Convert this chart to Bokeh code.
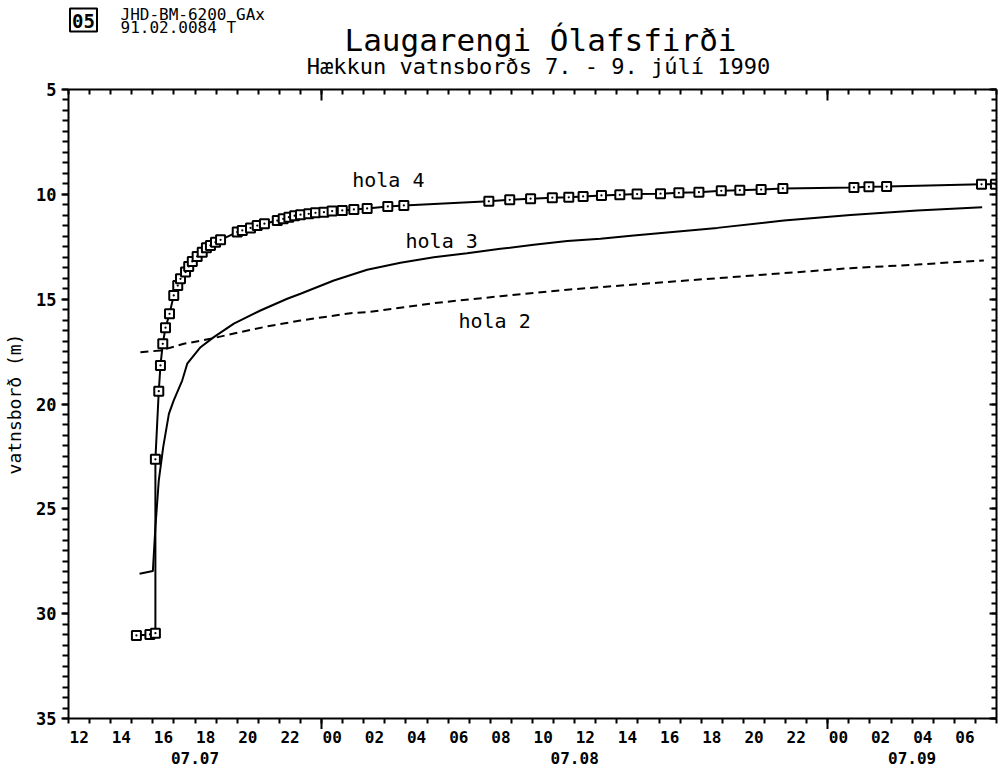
import numpy as np
from bokeh.plotting import figure
from bokeh.layouts import column
from bokeh.models import Range1d, LinearAxis, FixedTicker, Label
from bokeh.core.properties import value
from bokeh.embed import file_html
from bokeh.resources import INLINE

# time axis: hours since 07.07 12:00
hola4_hours = [3.22, 3.86, 4.12, 4.12, 4.28, 4.36, 4.47, 4.60, 4.79, 4.99, 5.18, 5.31, 5.55,
               5.70, 5.87, 6.10, 6.34, 6.54, 6.73, 6.97, 7.21, 8.00, 8.24, 8.63, 8.95, 9.29,
               9.90, 10.18, 10.45, 10.72, 11.00, 11.39, 11.71, 12.11, 12.50, 12.98, 13.53,
               14.16, 15.14, 15.90, 19.93, 20.92, 21.91, 22.94, 23.72, 24.40, 25.27, 26.14,
               26.96, 28.07, 28.94, 29.89, 30.95, 31.83, 32.84, 33.87, 37.24, 37.95, 38.79,
               43.29, 43.95]
hola4_level = [31.04, 30.99, 30.93, 22.64, 19.39, 18.16, 17.13, 16.36, 15.70, 14.82, 14.35,
               14.03, 13.71, 13.44, 13.20, 12.96, 12.76, 12.55, 12.44, 12.28, 12.17, 11.80,
               11.72, 11.60, 11.49, 11.40, 11.25, 11.17, 11.09, 11.02, 10.97, 10.93, 10.88,
               10.85, 10.80, 10.77, 10.72, 10.67, 10.58, 10.53, 10.33, 10.26, 10.21, 10.16,
               10.14, 10.10, 10.05, 10.02, 9.99, 9.97, 9.93, 9.90, 9.83, 9.80, 9.77, 9.72,
               9.67, 9.64, 9.63, 9.52, 9.52]

hola3_hours = [3.37, 4.00, 4.12, 4.28, 4.49, 4.76, 4.99, 5.39, 5.63, 6.26, 6.89, 7.84, 9.10,
               10.37, 11.00, 12.58, 14.16, 15.74, 17.32, 18.90, 20.48, 22.06, 23.65, 25.22,
               26.80, 30.76, 33.92, 37.08, 40.24, 43.32]
hola3_level = [28.10, 27.97, 25.87, 23.65, 22.06, 20.47, 19.83, 18.88, 18.08, 17.29, 16.81,
               16.17, 15.54, 14.98, 14.74, 14.11, 13.60, 13.26, 13.00, 12.81, 12.60, 12.41,
               12.23, 12.12, 11.96, 11.60, 11.25, 10.98, 10.77, 10.62]

hola2_hours = [3.41, 4.36, 5.47, 6.73, 8.16, 9.42, 11.00, 13.37, 14.16, 17.32, 20.48, 23.65,
               27.60, 30.76, 33.92, 37.08, 40.24, 43.40]
hola2_level = [17.53, 17.45, 17.13, 16.89, 16.57, 16.30, 16.02, 15.67, 15.62, 15.19, 14.86,
               14.55, 14.24, 14.00, 13.76, 13.52, 13.35, 13.15]

tick_hours = [0, 2, 4, 6, 8, 10, 12, 14, 16, 18, 20, 22, 24, 26, 28, 30, 32, 34, 36, 38, 40, 42]
tick_labels = ["12", "14", "16", "18", "20", "22", "00", "02", "04", "06", "08", "10",
               "12", "14", "16", "18", "20", "22", "00", "02", "04", "06"]
day_hours = [6, 24, 40]
day_labels = ["07.07", "07.08", "07.09"]
midnight_hours = [12, 36]

FONT = "DejaVu Sans Mono"
W = 999
HEAD_H = 81
FOOT_H = 42
MAIN_H = 771 - HEAD_H - FOOT_H   # 648: top border 8, frame 629, bottom border 11

x_rng = Range1d(0, 44)

# ---------- header (its frame is aligned with the main frame: x 68..996) ----------
head = figure(width=W, height=HEAD_H, output_backend="svg", toolbar_location=None,
              x_range=Range1d(68, 996), y_range=Range1d(HEAD_H, 0),
              x_axis_type=None, y_axis_type=None,
              min_border_left=68, min_border_right=3, min_border_top=0, min_border_bottom=0)
head.outline_line_color = None
head.xgrid.visible = False
head.ygrid.visible = False
head.rect(x=[83], y=[19.5], width=27, height=23, width_units="screen",
          height_units="screen", fill_color=None, line_color="black", line_width=2)
head.text(x=[83], y=[20], text=["05"], text_font=value(FONT), text_font_style="bold",
          text_font_size="19px", text_align="center", text_baseline="middle")
head.text(x=[120, 120], y=[14, 27], text=["JHD-BM-6200 GAx", "91.02.0084  T"],
          text_font=value(FONT), text_font_size="16px", text_align="left",
          text_baseline="middle")
head.text(x=[540], y=[39], text=["Laugarengi Ólafsfirði"], text_font=value(FONT),
          text_font_size="31px", text_align="center", text_baseline="middle")
head.text(x=[538], y=[66], text=["Hækkun vatnsborðs 7. - 9. júlí 1990"],
          text_font=value(FONT), text_font_size="22px", text_align="center",
          text_baseline="middle")

# ---------- main ----------
p = figure(width=W, height=MAIN_H, output_backend="svg", toolbar_location=None,
           x_range=x_rng, y_range=Range1d(35, 5),
           x_axis_type=None, y_axis_type=None,
           min_border_left=68, min_border_right=3, min_border_top=8, min_border_bottom=11)
p.outline_line_color = None
p.background_fill_color = "white"
p.border_fill_color = "white"

hour_minor = list(range(0, 45))
lvl_minor = list(np.arange(5, 35.01, 0.5))
lvl_major = [5, 10, 15, 20, 25, 30, 35]


def style(ax):
    ax.axis_line_width = 2
    ax.major_tick_line_width = 2
    ax.minor_tick_line_width = 2
    ax.axis_line_color = "black"
    ax.major_tick_line_color = "black"
    ax.minor_tick_line_color = "black"


def hide_labels(ax, ticks):
    ax.major_label_overrides = {t: "" for t in ticks}
    ax.major_label_text_font_size = "1px"
    ax.major_label_standoff = 0


bottom = LinearAxis(ticker=FixedTicker(ticks=midnight_hours, minor_ticks=hour_minor))
style(bottom)
hide_labels(bottom, midnight_hours)
bottom.major_tick_out = 11
bottom.major_tick_in = 0
bottom.minor_tick_out = 5
bottom.minor_tick_in = 0
p.add_layout(bottom, "below")

top = LinearAxis(ticker=FixedTicker(ticks=midnight_hours, minor_ticks=hour_minor))
style(top)
hide_labels(top, midnight_hours)
top.major_tick_out = 0
top.major_tick_in = 11
top.minor_tick_out = 0
top.minor_tick_in = 5
p.add_layout(top, "above")

left = LinearAxis(ticker=FixedTicker(ticks=lvl_major, minor_ticks=lvl_minor))
style(left)
left.major_tick_out = 7
left.major_tick_in = 0
left.minor_tick_out = 6
left.minor_tick_in = 0
left.major_label_text_font = FONT
left.major_label_text_font_style = "bold"
left.major_label_text_font_size = "17px"
left.major_label_text_color = "black"
left.major_label_standoff = 5
left.axis_label = "vatnsborð (m)"
left.axis_label_text_font = FONT
left.axis_label_text_font_style = "normal"
left.axis_label_text_font_size = "18px"
left.axis_label_text_color = "black"
left.axis_label_standoff = 8
p.add_layout(left, "left")

right = LinearAxis(ticker=FixedTicker(ticks=lvl_major, minor_ticks=lvl_minor))
style(right)
hide_labels(right, lvl_major)
right.major_tick_out = 0
right.major_tick_in = 7
right.minor_tick_out = 0
right.minor_tick_in = 5
p.add_layout(right, "right")

# curves
p.line(hola2_hours, hola2_level, line_color="black", line_width=2, line_dash="8 5")
p.line(hola3_hours, hola3_level, line_color="black", line_width=2)
p.line(hola4_hours, hola4_level, line_color="black", line_width=2)
p.scatter(hola4_hours, hola4_level, marker="square_dot", size=9, line_color="black",
          line_width=2, fill_color="white")

# curve labels
for txt, hx, lv in [("hola 4", 13.45, 9.34), ("hola 3", 15.98, 12.23), ("hola 2", 18.49, 16.02)]:
    p.add_layout(Label(x=hx, y=lv, text=txt, text_font=FONT, text_font_size="20px",
                       text_baseline="middle", text_align="left", text_color="black"))

# ---------- footer (time labels under the axis, frame shares the main x scale) ----------
foot = figure(width=W, height=FOOT_H, output_backend="svg", toolbar_location=None,
              x_range=x_rng, y_range=Range1d(FOOT_H, 0),
              x_axis_type=None, y_axis_type=None,
              min_border_left=68, min_border_right=3, min_border_top=0, min_border_bottom=0)
foot.outline_line_color = None
foot.xgrid.visible = False
foot.ygrid.visible = False
foot.text(x=tick_hours, y=[7] * len(tick_hours), text=tick_labels, x_offset=1,
          text_font=value(FONT), text_font_style="bold", text_font_size="16px",
          text_align="left", text_baseline="middle")
foot.text(x=day_hours, y=[28] * len(day_hours), text=day_labels,
          text_font=value(FONT), text_font_style="bold", text_font_size="16px",
          text_align="center", text_baseline="middle")

layout = column(head, p, foot, spacing=0)
open("out.html", "w").write(file_html(layout, INLINE))
